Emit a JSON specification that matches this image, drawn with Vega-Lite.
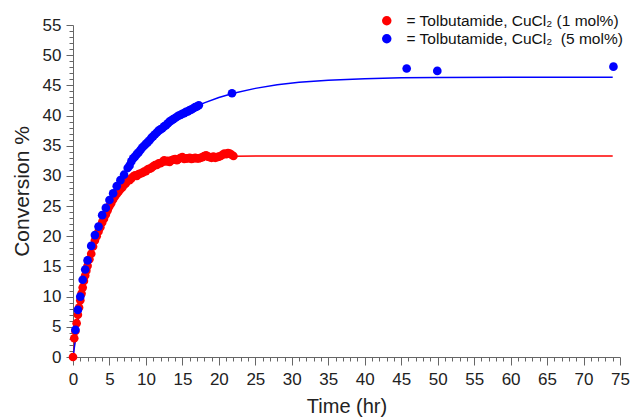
{
  "$schema": "https://vega.github.io/schema/vega-lite/v6.json",
  "width": 547,
  "height": 332,
  "autosize": "none",
  "padding": {"left": 73, "top": 25, "right": 12, "bottom": 60},
  "background": "white",
  "config": {
    "view": {"stroke": null},
    "font": "Liberation Sans",
    "axis": {"grid": false, "domainColor": "#666666", "tickColor": "#666666", "labelColor": "#222222", "titleColor": "#222222", "labelFont": "Liberation Sans", "titleFont": "Liberation Sans", "titleFontWeight": "normal"}
  },
  "datasets": {
    "points": [
      {"series": "= Tolbutamide, CuCl₂ (1 mol%)", "t": 0, "y": 0},
      {"series": "= Tolbutamide, CuCl₂ (1 mol%)", "t": 0.17, "y": 3.1},
      {"series": "= Tolbutamide, CuCl₂ (1 mol%)", "t": 0.33, "y": 4.3},
      {"series": "= Tolbutamide, CuCl₂ (1 mol%)", "t": 0.5, "y": 5.6},
      {"series": "= Tolbutamide, CuCl₂ (1 mol%)", "t": 0.67, "y": 7.0},
      {"series": "= Tolbutamide, CuCl₂ (1 mol%)", "t": 0.83, "y": 8.2},
      {"series": "= Tolbutamide, CuCl₂ (1 mol%)", "t": 1.0, "y": 9.4},
      {"series": "= Tolbutamide, CuCl₂ (1 mol%)", "t": 1.17, "y": 10.5},
      {"series": "= Tolbutamide, CuCl₂ (1 mol%)", "t": 1.33, "y": 11.5},
      {"series": "= Tolbutamide, CuCl₂ (1 mol%)", "t": 1.5, "y": 12.6},
      {"series": "= Tolbutamide, CuCl₂ (1 mol%)", "t": 1.67, "y": 13.5},
      {"series": "= Tolbutamide, CuCl₂ (1 mol%)", "t": 1.83, "y": 14.3},
      {"series": "= Tolbutamide, CuCl₂ (1 mol%)", "t": 2.0, "y": 15.1},
      {"series": "= Tolbutamide, CuCl₂ (1 mol%)", "t": 2.25, "y": 16.2},
      {"series": "= Tolbutamide, CuCl₂ (1 mol%)", "t": 2.5, "y": 17.1},
      {"series": "= Tolbutamide, CuCl₂ (1 mol%)", "t": 2.75, "y": 18.3},
      {"series": "= Tolbutamide, CuCl₂ (1 mol%)", "t": 3.0, "y": 19.3},
      {"series": "= Tolbutamide, CuCl₂ (1 mol%)", "t": 3.25, "y": 20.0},
      {"series": "= Tolbutamide, CuCl₂ (1 mol%)", "t": 3.5, "y": 20.8},
      {"series": "= Tolbutamide, CuCl₂ (1 mol%)", "t": 3.75, "y": 21.5},
      {"series": "= Tolbutamide, CuCl₂ (1 mol%)", "t": 4.0, "y": 22.3},
      {"series": "= Tolbutamide, CuCl₂ (1 mol%)", "t": 4.25, "y": 22.9},
      {"series": "= Tolbutamide, CuCl₂ (1 mol%)", "t": 4.5, "y": 23.6},
      {"series": "= Tolbutamide, CuCl₂ (1 mol%)", "t": 4.75, "y": 24.3},
      {"series": "= Tolbutamide, CuCl₂ (1 mol%)", "t": 5.0, "y": 25.0},
      {"series": "= Tolbutamide, CuCl₂ (1 mol%)", "t": 5.25, "y": 25.5},
      {"series": "= Tolbutamide, CuCl₂ (1 mol%)", "t": 5.5, "y": 26.1},
      {"series": "= Tolbutamide, CuCl₂ (1 mol%)", "t": 5.75, "y": 26.6},
      {"series": "= Tolbutamide, CuCl₂ (1 mol%)", "t": 6.0, "y": 27.0},
      {"series": "= Tolbutamide, CuCl₂ (1 mol%)", "t": 6.25, "y": 27.4},
      {"series": "= Tolbutamide, CuCl₂ (1 mol%)", "t": 6.5, "y": 27.8},
      {"series": "= Tolbutamide, CuCl₂ (1 mol%)", "t": 6.75, "y": 28.1},
      {"series": "= Tolbutamide, CuCl₂ (1 mol%)", "t": 7.0, "y": 28.5},
      {"series": "= Tolbutamide, CuCl₂ (1 mol%)", "t": 7.25, "y": 28.8},
      {"series": "= Tolbutamide, CuCl₂ (1 mol%)", "t": 7.5, "y": 29.2},
      {"series": "= Tolbutamide, CuCl₂ (1 mol%)", "t": 7.75, "y": 29.3},
      {"series": "= Tolbutamide, CuCl₂ (1 mol%)", "t": 8.0, "y": 29.6},
      {"series": "= Tolbutamide, CuCl₂ (1 mol%)", "t": 8.25, "y": 29.9},
      {"series": "= Tolbutamide, CuCl₂ (1 mol%)", "t": 8.5, "y": 30.1},
      {"series": "= Tolbutamide, CuCl₂ (1 mol%)", "t": 8.75, "y": 30.0},
      {"series": "= Tolbutamide, CuCl₂ (1 mol%)", "t": 9.0, "y": 30.3},
      {"series": "= Tolbutamide, CuCl₂ (1 mol%)", "t": 9.25, "y": 30.4},
      {"series": "= Tolbutamide, CuCl₂ (1 mol%)", "t": 9.5, "y": 30.5},
      {"series": "= Tolbutamide, CuCl₂ (1 mol%)", "t": 9.75, "y": 30.7},
      {"series": "= Tolbutamide, CuCl₂ (1 mol%)", "t": 10.0, "y": 30.8},
      {"series": "= Tolbutamide, CuCl₂ (1 mol%)", "t": 10.25, "y": 31.1},
      {"series": "= Tolbutamide, CuCl₂ (1 mol%)", "t": 10.5, "y": 31.2},
      {"series": "= Tolbutamide, CuCl₂ (1 mol%)", "t": 10.75, "y": 31.3},
      {"series": "= Tolbutamide, CuCl₂ (1 mol%)", "t": 11.0, "y": 31.6},
      {"series": "= Tolbutamide, CuCl₂ (1 mol%)", "t": 11.25, "y": 31.8},
      {"series": "= Tolbutamide, CuCl₂ (1 mol%)", "t": 11.5, "y": 31.8},
      {"series": "= Tolbutamide, CuCl₂ (1 mol%)", "t": 11.75, "y": 32.1},
      {"series": "= Tolbutamide, CuCl₂ (1 mol%)", "t": 12.0, "y": 32.1},
      {"series": "= Tolbutamide, CuCl₂ (1 mol%)", "t": 12.25, "y": 32.3},
      {"series": "= Tolbutamide, CuCl₂ (1 mol%)", "t": 12.5, "y": 32.6},
      {"series": "= Tolbutamide, CuCl₂ (1 mol%)", "t": 12.75, "y": 32.4},
      {"series": "= Tolbutamide, CuCl₂ (1 mol%)", "t": 13.0, "y": 32.5},
      {"series": "= Tolbutamide, CuCl₂ (1 mol%)", "t": 13.25, "y": 32.3},
      {"series": "= Tolbutamide, CuCl₂ (1 mol%)", "t": 13.5, "y": 32.6},
      {"series": "= Tolbutamide, CuCl₂ (1 mol%)", "t": 13.75, "y": 32.7},
      {"series": "= Tolbutamide, CuCl₂ (1 mol%)", "t": 14.0, "y": 32.8},
      {"series": "= Tolbutamide, CuCl₂ (1 mol%)", "t": 14.25, "y": 32.6},
      {"series": "= Tolbutamide, CuCl₂ (1 mol%)", "t": 14.5, "y": 32.8},
      {"series": "= Tolbutamide, CuCl₂ (1 mol%)", "t": 14.75, "y": 33.0},
      {"series": "= Tolbutamide, CuCl₂ (1 mol%)", "t": 15.0, "y": 33.1},
      {"series": "= Tolbutamide, CuCl₂ (1 mol%)", "t": 15.25, "y": 32.8},
      {"series": "= Tolbutamide, CuCl₂ (1 mol%)", "t": 15.5, "y": 32.9},
      {"series": "= Tolbutamide, CuCl₂ (1 mol%)", "t": 15.75, "y": 32.9},
      {"series": "= Tolbutamide, CuCl₂ (1 mol%)", "t": 16.0, "y": 33.0},
      {"series": "= Tolbutamide, CuCl₂ (1 mol%)", "t": 16.25, "y": 32.8},
      {"series": "= Tolbutamide, CuCl₂ (1 mol%)", "t": 16.5, "y": 32.9},
      {"series": "= Tolbutamide, CuCl₂ (1 mol%)", "t": 16.75, "y": 33.0},
      {"series": "= Tolbutamide, CuCl₂ (1 mol%)", "t": 17.0, "y": 32.9},
      {"series": "= Tolbutamide, CuCl₂ (1 mol%)", "t": 17.25, "y": 32.9},
      {"series": "= Tolbutamide, CuCl₂ (1 mol%)", "t": 17.5, "y": 33.0},
      {"series": "= Tolbutamide, CuCl₂ (1 mol%)", "t": 17.75, "y": 33.1},
      {"series": "= Tolbutamide, CuCl₂ (1 mol%)", "t": 18.0, "y": 33.3},
      {"series": "= Tolbutamide, CuCl₂ (1 mol%)", "t": 18.25, "y": 33.4},
      {"series": "= Tolbutamide, CuCl₂ (1 mol%)", "t": 18.5, "y": 33.2},
      {"series": "= Tolbutamide, CuCl₂ (1 mol%)", "t": 18.75, "y": 33.1},
      {"series": "= Tolbutamide, CuCl₂ (1 mol%)", "t": 19.0, "y": 33.0},
      {"series": "= Tolbutamide, CuCl₂ (1 mol%)", "t": 19.25, "y": 33.2},
      {"series": "= Tolbutamide, CuCl₂ (1 mol%)", "t": 19.5, "y": 33.0},
      {"series": "= Tolbutamide, CuCl₂ (1 mol%)", "t": 19.75, "y": 33.1},
      {"series": "= Tolbutamide, CuCl₂ (1 mol%)", "t": 20.0, "y": 33.2},
      {"series": "= Tolbutamide, CuCl₂ (1 mol%)", "t": 20.25, "y": 33.3},
      {"series": "= Tolbutamide, CuCl₂ (1 mol%)", "t": 20.5, "y": 33.5},
      {"series": "= Tolbutamide, CuCl₂ (1 mol%)", "t": 20.75, "y": 33.7},
      {"series": "= Tolbutamide, CuCl₂ (1 mol%)", "t": 21.0, "y": 33.6},
      {"series": "= Tolbutamide, CuCl₂ (1 mol%)", "t": 21.25, "y": 33.8},
      {"series": "= Tolbutamide, CuCl₂ (1 mol%)", "t": 21.5, "y": 33.7},
      {"series": "= Tolbutamide, CuCl₂ (1 mol%)", "t": 21.75, "y": 33.5},
      {"series": "= Tolbutamide, CuCl₂ (1 mol%)", "t": 22.0, "y": 33.3},
      {"series": "= Tolbutamide, CuCl₂  (5 mol%)", "t": 0.33, "y": 4.5},
      {"series": "= Tolbutamide, CuCl₂  (5 mol%)", "t": 0.67, "y": 7.8},
      {"series": "= Tolbutamide, CuCl₂  (5 mol%)", "t": 1.0, "y": 10.0},
      {"series": "= Tolbutamide, CuCl₂  (5 mol%)", "t": 1.33, "y": 12.8},
      {"series": "= Tolbutamide, CuCl₂  (5 mol%)", "t": 1.67, "y": 14.5},
      {"series": "= Tolbutamide, CuCl₂  (5 mol%)", "t": 2.0, "y": 16.0},
      {"series": "= Tolbutamide, CuCl₂  (5 mol%)", "t": 2.5, "y": 18.4},
      {"series": "= Tolbutamide, CuCl₂  (5 mol%)", "t": 3.0, "y": 20.2},
      {"series": "= Tolbutamide, CuCl₂  (5 mol%)", "t": 3.5, "y": 21.6},
      {"series": "= Tolbutamide, CuCl₂  (5 mol%)", "t": 4.0, "y": 23.5},
      {"series": "= Tolbutamide, CuCl₂  (5 mol%)", "t": 4.5, "y": 24.7},
      {"series": "= Tolbutamide, CuCl₂  (5 mol%)", "t": 5.0, "y": 26.0},
      {"series": "= Tolbutamide, CuCl₂  (5 mol%)", "t": 5.5, "y": 27.1},
      {"series": "= Tolbutamide, CuCl₂  (5 mol%)", "t": 6.0, "y": 28.3},
      {"series": "= Tolbutamide, CuCl₂  (5 mol%)", "t": 6.5, "y": 29.3},
      {"series": "= Tolbutamide, CuCl₂  (5 mol%)", "t": 7.0, "y": 30.2},
      {"series": "= Tolbutamide, CuCl₂  (5 mol%)", "t": 7.5, "y": 31.3},
      {"series": "= Tolbutamide, CuCl₂  (5 mol%)", "t": 7.75, "y": 31.7},
      {"series": "= Tolbutamide, CuCl₂  (5 mol%)", "t": 8.0, "y": 32.4},
      {"series": "= Tolbutamide, CuCl₂  (5 mol%)", "t": 8.25, "y": 32.9},
      {"series": "= Tolbutamide, CuCl₂  (5 mol%)", "t": 8.5, "y": 33.2},
      {"series": "= Tolbutamide, CuCl₂  (5 mol%)", "t": 8.75, "y": 33.6},
      {"series": "= Tolbutamide, CuCl₂  (5 mol%)", "t": 9.0, "y": 33.9},
      {"series": "= Tolbutamide, CuCl₂  (5 mol%)", "t": 9.25, "y": 34.3},
      {"series": "= Tolbutamide, CuCl₂  (5 mol%)", "t": 9.5, "y": 34.7},
      {"series": "= Tolbutamide, CuCl₂  (5 mol%)", "t": 9.75, "y": 35.0},
      {"series": "= Tolbutamide, CuCl₂  (5 mol%)", "t": 10.0, "y": 35.3},
      {"series": "= Tolbutamide, CuCl₂  (5 mol%)", "t": 10.25, "y": 35.6},
      {"series": "= Tolbutamide, CuCl₂  (5 mol%)", "t": 10.5, "y": 35.9},
      {"series": "= Tolbutamide, CuCl₂  (5 mol%)", "t": 10.75, "y": 36.3},
      {"series": "= Tolbutamide, CuCl₂  (5 mol%)", "t": 11.0, "y": 36.6},
      {"series": "= Tolbutamide, CuCl₂  (5 mol%)", "t": 11.25, "y": 36.9},
      {"series": "= Tolbutamide, CuCl₂  (5 mol%)", "t": 11.5, "y": 37.2},
      {"series": "= Tolbutamide, CuCl₂  (5 mol%)", "t": 11.75, "y": 37.5},
      {"series": "= Tolbutamide, CuCl₂  (5 mol%)", "t": 12.0, "y": 37.7},
      {"series": "= Tolbutamide, CuCl₂  (5 mol%)", "t": 12.25, "y": 37.9},
      {"series": "= Tolbutamide, CuCl₂  (5 mol%)", "t": 12.5, "y": 38.2},
      {"series": "= Tolbutamide, CuCl₂  (5 mol%)", "t": 12.75, "y": 38.4},
      {"series": "= Tolbutamide, CuCl₂  (5 mol%)", "t": 13.0, "y": 38.7},
      {"series": "= Tolbutamide, CuCl₂  (5 mol%)", "t": 13.25, "y": 39.0},
      {"series": "= Tolbutamide, CuCl₂  (5 mol%)", "t": 13.5, "y": 39.2},
      {"series": "= Tolbutamide, CuCl₂  (5 mol%)", "t": 13.75, "y": 39.4},
      {"series": "= Tolbutamide, CuCl₂  (5 mol%)", "t": 14.0, "y": 39.6},
      {"series": "= Tolbutamide, CuCl₂  (5 mol%)", "t": 14.25, "y": 39.8},
      {"series": "= Tolbutamide, CuCl₂  (5 mol%)", "t": 14.5, "y": 40.0},
      {"series": "= Tolbutamide, CuCl₂  (5 mol%)", "t": 14.75, "y": 40.1},
      {"series": "= Tolbutamide, CuCl₂  (5 mol%)", "t": 15.0, "y": 40.3},
      {"series": "= Tolbutamide, CuCl₂  (5 mol%)", "t": 15.25, "y": 40.4},
      {"series": "= Tolbutamide, CuCl₂  (5 mol%)", "t": 15.5, "y": 40.6},
      {"series": "= Tolbutamide, CuCl₂  (5 mol%)", "t": 15.75, "y": 40.7},
      {"series": "= Tolbutamide, CuCl₂  (5 mol%)", "t": 16.0, "y": 40.9},
      {"series": "= Tolbutamide, CuCl₂  (5 mol%)", "t": 16.25, "y": 41.0},
      {"series": "= Tolbutamide, CuCl₂  (5 mol%)", "t": 16.5, "y": 41.2},
      {"series": "= Tolbutamide, CuCl₂  (5 mol%)", "t": 16.75, "y": 41.4},
      {"series": "= Tolbutamide, CuCl₂  (5 mol%)", "t": 17.0, "y": 41.5},
      {"series": "= Tolbutamide, CuCl₂  (5 mol%)", "t": 17.25, "y": 41.7},
      {"series": "= Tolbutamide, CuCl₂  (5 mol%)", "t": 21.8, "y": 43.7},
      {"series": "= Tolbutamide, CuCl₂  (5 mol%)", "t": 45.75, "y": 47.8},
      {"series": "= Tolbutamide, CuCl₂  (5 mol%)", "t": 49.95, "y": 47.4},
      {"series": "= Tolbutamide, CuCl₂  (5 mol%)", "t": 74.1, "y": 48.1}
    ],
    "fits": [
      {"series": "= Tolbutamide, CuCl₂ (1 mol%)", "t": 0, "y": 0},
      {"series": "= Tolbutamide, CuCl₂ (1 mol%)", "t": 0.5, "y": 5.4},
      {"series": "= Tolbutamide, CuCl₂ (1 mol%)", "t": 1, "y": 9.4},
      {"series": "= Tolbutamide, CuCl₂ (1 mol%)", "t": 1.5, "y": 12.5},
      {"series": "= Tolbutamide, CuCl₂ (1 mol%)", "t": 2, "y": 15.0},
      {"series": "= Tolbutamide, CuCl₂ (1 mol%)", "t": 3, "y": 19.3},
      {"series": "= Tolbutamide, CuCl₂ (1 mol%)", "t": 4, "y": 22.4},
      {"series": "= Tolbutamide, CuCl₂ (1 mol%)", "t": 5, "y": 25.0},
      {"series": "= Tolbutamide, CuCl₂ (1 mol%)", "t": 6, "y": 27.0},
      {"series": "= Tolbutamide, CuCl₂ (1 mol%)", "t": 7, "y": 28.5},
      {"series": "= Tolbutamide, CuCl₂ (1 mol%)", "t": 8, "y": 29.6},
      {"series": "= Tolbutamide, CuCl₂ (1 mol%)", "t": 9, "y": 30.5},
      {"series": "= Tolbutamide, CuCl₂ (1 mol%)", "t": 10, "y": 31.2},
      {"series": "= Tolbutamide, CuCl₂ (1 mol%)", "t": 12, "y": 32.1},
      {"series": "= Tolbutamide, CuCl₂ (1 mol%)", "t": 14, "y": 32.6},
      {"series": "= Tolbutamide, CuCl₂ (1 mol%)", "t": 16, "y": 32.9},
      {"series": "= Tolbutamide, CuCl₂ (1 mol%)", "t": 18, "y": 33.1},
      {"series": "= Tolbutamide, CuCl₂ (1 mol%)", "t": 20, "y": 33.2},
      {"series": "= Tolbutamide, CuCl₂ (1 mol%)", "t": 22, "y": 33.25},
      {"series": "= Tolbutamide, CuCl₂ (1 mol%)", "t": 26, "y": 33.3},
      {"series": "= Tolbutamide, CuCl₂ (1 mol%)", "t": 74, "y": 33.3},
      {"series": "= Tolbutamide, CuCl₂  (5 mol%)", "t": 0, "y": 0},
      {"series": "= Tolbutamide, CuCl₂  (5 mol%)", "t": 1, "y": 8.5},
      {"series": "= Tolbutamide, CuCl₂  (5 mol%)", "t": 2, "y": 15.0},
      {"series": "= Tolbutamide, CuCl₂  (5 mol%)", "t": 3, "y": 19.5},
      {"series": "= Tolbutamide, CuCl₂  (5 mol%)", "t": 4, "y": 23.2},
      {"series": "= Tolbutamide, CuCl₂  (5 mol%)", "t": 5, "y": 26.0},
      {"series": "= Tolbutamide, CuCl₂  (5 mol%)", "t": 6, "y": 28.4},
      {"series": "= Tolbutamide, CuCl₂  (5 mol%)", "t": 7, "y": 30.4},
      {"series": "= Tolbutamide, CuCl₂  (5 mol%)", "t": 8, "y": 32.2},
      {"series": "= Tolbutamide, CuCl₂  (5 mol%)", "t": 9, "y": 33.9},
      {"series": "= Tolbutamide, CuCl₂  (5 mol%)", "t": 10, "y": 35.3},
      {"series": "= Tolbutamide, CuCl₂  (5 mol%)", "t": 11, "y": 36.6},
      {"series": "= Tolbutamide, CuCl₂  (5 mol%)", "t": 12, "y": 37.7},
      {"series": "= Tolbutamide, CuCl₂  (5 mol%)", "t": 13, "y": 38.7},
      {"series": "= Tolbutamide, CuCl₂  (5 mol%)", "t": 14, "y": 39.6},
      {"series": "= Tolbutamide, CuCl₂  (5 mol%)", "t": 15, "y": 40.3},
      {"series": "= Tolbutamide, CuCl₂  (5 mol%)", "t": 16, "y": 40.9},
      {"series": "= Tolbutamide, CuCl₂  (5 mol%)", "t": 17, "y": 41.5},
      {"series": "= Tolbutamide, CuCl₂  (5 mol%)", "t": 18, "y": 42.1},
      {"series": "= Tolbutamide, CuCl₂  (5 mol%)", "t": 20, "y": 43.0},
      {"series": "= Tolbutamide, CuCl₂  (5 mol%)", "t": 22, "y": 43.7},
      {"series": "= Tolbutamide, CuCl₂  (5 mol%)", "t": 25, "y": 44.5},
      {"series": "= Tolbutamide, CuCl₂  (5 mol%)", "t": 28, "y": 45.1},
      {"series": "= Tolbutamide, CuCl₂  (5 mol%)", "t": 31, "y": 45.5},
      {"series": "= Tolbutamide, CuCl₂  (5 mol%)", "t": 35, "y": 45.85},
      {"series": "= Tolbutamide, CuCl₂  (5 mol%)", "t": 40, "y": 46.1},
      {"series": "= Tolbutamide, CuCl₂  (5 mol%)", "t": 45, "y": 46.25},
      {"series": "= Tolbutamide, CuCl₂  (5 mol%)", "t": 50, "y": 46.3},
      {"series": "= Tolbutamide, CuCl₂  (5 mol%)", "t": 60, "y": 46.35},
      {"series": "= Tolbutamide, CuCl₂  (5 mol%)", "t": 74, "y": 46.35}
    ]
  },
  "layer": [
    {
      "data": {"name": "fits"},
      "mark": {"type": "line", "strokeWidth": 1.5, "clip": true},
      "encoding": {
        "x": {"field": "t", "type": "quantitative", "scale": {"domain": [0, 75], "nice": false},
          "axis": {"orient": "bottom", "values": [0,5,10,15,20,25,30,35,40,45,50,55,60,65,70,75], "title": "Time (hr)", "titleFontSize": 20, "labelFontSize": 17, "tickSize": 8, "labelPadding": 6, "titlePadding": 9, "labelFlush": false}},
        "y": {"field": "y", "type": "quantitative", "scale": {"domain": [0, 55], "nice": false},
          "axis": {"orient": "left", "values": [0,5,10,15,20,25,30,35,40,45,50,55], "title": "Conversion %", "titleFontSize": 21, "labelFontSize": 17, "tickSize": 7, "labelPadding": 5, "titlePadding": 10}},
        "color": {"field": "series", "type": "nominal",
          "scale": {"domain": ["= Tolbutamide, CuCl₂ (1 mol%)", "= Tolbutamide, CuCl₂  (5 mol%)"], "range": ["#ff0000", "#0000ff"]},
          "legend": {"orient": "none", "legendX": 306, "legendY": -12, "title": null, "symbolType": "circle", "symbolSize": 90, "symbolStrokeWidth": 0, "labelFontSize": 15.5, "labelFont": "Liberation Sans", "labelColor": "#111111", "labelOffset": 12, "rowPadding": 1, "labelLimit": 400, "labelExpr": "replace(datum.label, '  (', '\u00a0\u00a0(')"}},
        "detail": {"field": "series"}
      }
    },
    {
      "data": {"name": "points"},
      "mark": {"type": "circle", "size": 75, "opacity": 1},
      "encoding": {
        "x": {"field": "t", "type": "quantitative",
          "axis": {"orient": "bottom", "values": [0,1,2,3,4,6,7,8,9,11,12,13,14,16,17,18,19,21,22,23,24,26,27,28,29,31,32,33,34,36,37,38,39,41,42,43,44,46,47,48,49,51,52,53,54,56,57,58,59,61,62,63,64,66,67,68,69,71,72,73,74], "labels": false, "title": null, "tickSize": 4, "domain": false}},
        "y": {"field": "y", "type": "quantitative",
          "axis": {"orient": "left", "values": [1,2,3,4,6,7,8,9,11,12,13,14,16,17,18,19,21,22,23,24,26,27,28,29,31,32,33,34,36,37,38,39,41,42,43,44,46,47,48,49,51,52,53,54], "labels": false, "title": null, "tickSize": 4, "domain": false}},
        "color": {"field": "series", "type": "nominal",
          "scale": {"domain": ["= Tolbutamide, CuCl₂ (1 mol%)", "= Tolbutamide, CuCl₂  (5 mol%)"], "range": ["#ff0000", "#0000ff"]},
          "legend": {"orient": "none", "legendX": 306, "legendY": -12, "title": null, "symbolType": "circle", "symbolSize": 90, "symbolStrokeWidth": 0, "labelFontSize": 15.5, "labelFont": "Liberation Sans", "labelColor": "#111111", "labelOffset": 12, "rowPadding": 1, "labelLimit": 400, "labelExpr": "replace(datum.label, '  (', '\u00a0\u00a0(')"}}
      }
    }
  ],
  "resolve": {"axis": {"x": "independent", "y": "independent"}}
}
